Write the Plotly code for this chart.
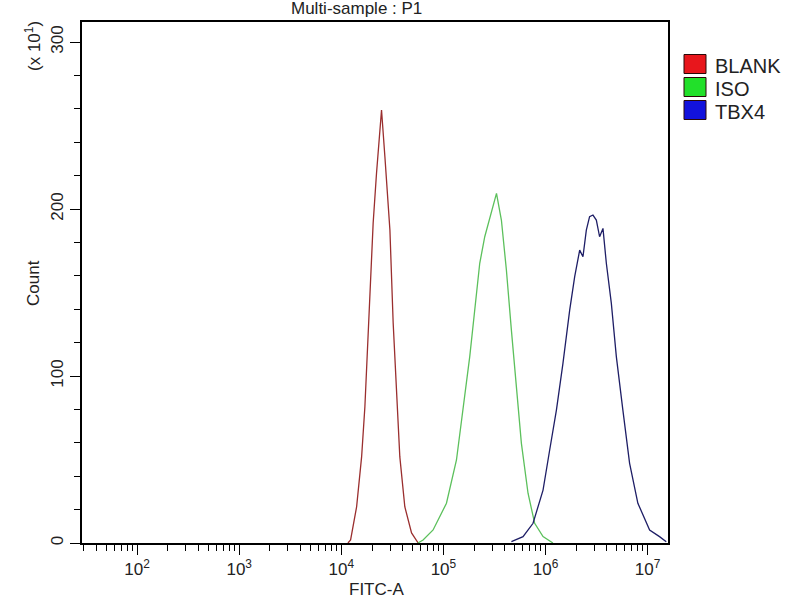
import plotly.graph_objects as go

# FITC-A intensities (log10) and counts (x10)
blank_logx = [4.065, 4.091, 4.150, 4.199, 4.231, 4.253, 4.280, 4.312, 4.345, 4.378, 4.394,
              4.427, 4.476, 4.508, 4.541, 4.573, 4.622, 4.688, 4.753]
blank_count = [0, 1.8, 21.7, 51.7, 81.6, 111.6, 151.5, 191.6, 221.6, 251.5, 259.3,
               231.3, 187.4, 131.7, 91.6, 51.7, 21.7, 6.0, 0]

iso_logx = [4.75, 4.801, 4.899, 5.030, 5.128, 5.193, 5.258, 5.307, 5.356, 5.405, 5.471, 5.520,
            5.568, 5.617, 5.666, 5.715, 5.764, 5.829, 5.894, 5.976, 6.073]
iso_count = [0, 1.8, 7.8, 23.8, 49.7, 79.6, 111.6, 139.5, 167.5, 183.4, 197.4, 209.4,
             193.4, 163.5, 127.5, 93.6, 59.7, 29.8, 11.8, 3.8, 0]

tbx4_logx = [5.666, 5.780, 5.878, 5.976, 6.041, 6.107, 6.171, 6.237, 6.286, 6.335, 6.367, 6.400,
             6.432, 6.465, 6.498, 6.530, 6.563, 6.596, 6.645, 6.694, 6.758, 6.824, 6.905,
             7.020, 7.117, 7.183]
tbx4_count = [0.8, 3.8, 11.8, 31.7, 55.7, 79.6, 107.6, 139.5, 159.5, 175.4, 171.4, 187.4,
              195.4, 196.4, 193.4, 183.4, 188.4, 167.5, 143.5, 111.6, 79.6, 47.7, 23.8,
              7.8, 3.8, 0.8]

series_names = ["BLANK", "ISO", "TBX4"]
line_colors = ["#9a2e2e", "#5cc05c", "#1e1e66"]
swatch_colors = ["#e8161c", "#22e02a", "#1212dc"]

x_tickvals = [1e2, 1e3, 1e4, 1e5, 1e6, 1e7]
x_ticktext = ["10<sup>2</sup>", "10<sup>3</sup>", "10<sup>4</sup>",
              "10<sup>5</sup>", "10<sup>6</sup>", "10<sup>7</sup>"]
y_tickvals = [0, 100, 200, 300]

FAM = "Liberation Sans, Arial, sans-serif"
TXT = "#222222"

# plot area in pixels: left 82, right 668, top 22, bottom 543
L, R, T, B = 82, 668, 22, 543
def px(x):
    return (x - L) / (R - L)
def py(y):
    return (B - y) / (B - T)

fig = go.Figure()
for lx, cnt, name, col in zip([blank_logx, iso_logx, tbx4_logx],
                              [blank_count, iso_count, tbx4_count],
                              series_names, line_colors):
    fig.add_trace(go.Scatter(x=[10 ** v for v in lx], y=cnt, mode="lines", name=name,
                             line=dict(color=col, width=1.3), showlegend=False))

x_minor = [k * 10 ** n for n in range(1, 8) for k in range(2, 10)
           if 28.8 < k * 10 ** n < 1.58e7]
y_minor = [v for v in range(20, 300, 20) if v % 100 != 0]

annotations = [
    dict(text="Multi-sample : P1", x=px(356), y=py(9)),
    dict(text="Count", x=px(33), y=py(283), textangle=-90),
    dict(text="(x 10<sup>1</sup>)", x=px(33), y=py(46), textangle=-90),
    dict(text="FITC-A", x=px(376), y=py(589), font=dict(family=FAM, size=17, color=TXT)),
]
shapes = []
# hand-drawn legend with square swatches
for i, (name, col) in enumerate(zip(series_names, swatch_colors)):
    cy = 64 + 23 * i
    shapes.append(dict(type="rect", xref="paper", yref="paper",
                       x0=px(684), x1=px(706), y0=py(cy - 9.5), y1=py(cy + 9.5),
                       fillcolor=col, line=dict(color="#2a0808", width=1)))
    annotations.append(dict(text=name, x=px(713), y=py(cy + 2), xanchor="left",
                            font=dict(family=FAM, size=20, color=TXT)))

for a in annotations:
    a.setdefault("xref", "paper")
    a.setdefault("yref", "paper")
    a.setdefault("xanchor", "center")
    a.setdefault("yanchor", "middle")
    a.setdefault("showarrow", False)
    a.setdefault("font", dict(family=FAM, size=17, color=TXT))

fig.update_layout(
    width=800, height=600,
    margin=dict(l=L, r=800 - R, t=T, b=600 - B),
    plot_bgcolor="white", paper_bgcolor="white",
    font=dict(family=FAM, size=17, color=TXT),
    showlegend=False,
    annotations=annotations,
    shapes=shapes,
)

fig.update_xaxes(
    type="log", range=[1.46, 7.2],
    tickvals=x_tickvals, ticktext=x_ticktext,
    ticks="outside", ticklen=10, tickcolor="black", tickwidth=1,
    minor=dict(tickvals=x_minor, ticks="outside", ticklen=6, tickcolor="black"),
    showline=True, linecolor="black", linewidth=1.5, mirror=True,
    showgrid=False, zeroline=False, automargin=False,
)
fig.update_yaxes(
    range=[0, 312],
    tickvals=y_tickvals, tickangle=-90,
    ticks="outside", ticklen=10, tickcolor="black", tickwidth=1,
    minor=dict(tickvals=y_minor, ticks="outside", ticklen=6, tickcolor="black"),
    showline=True, linecolor="black", linewidth=1.5, mirror=True,
    showgrid=False, zeroline=False, automargin=False,
)

fig.write_html("out.html", config={"displayModeBar": False},
               post_script="document.body.style.margin='0px';")
